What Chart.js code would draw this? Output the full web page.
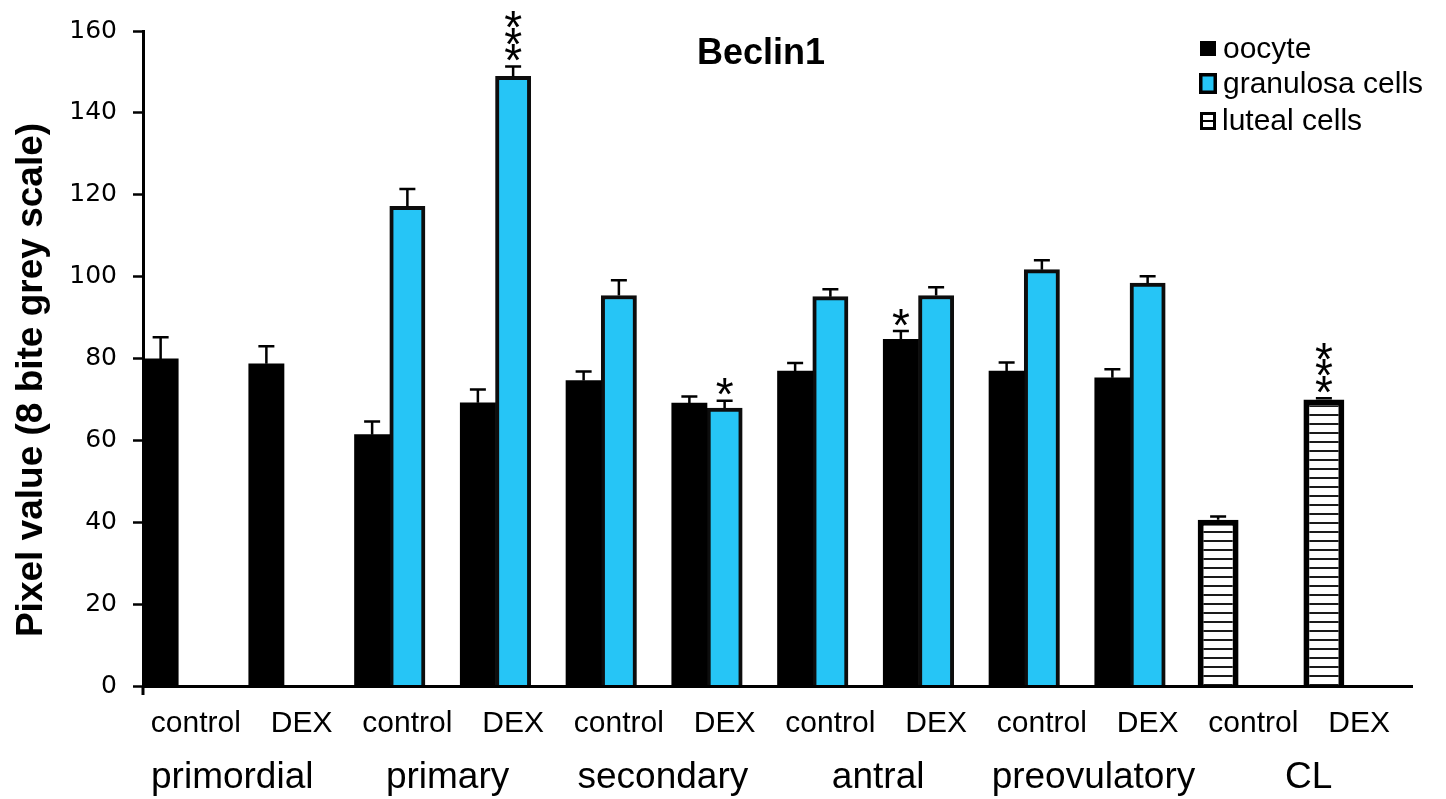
<!DOCTYPE html>
<html>
<head>
<meta charset="utf-8">
<title>Beclin1</title>
<script src="https://cdn.jsdelivr.net/npm/chart.js@4.4.1/dist/chart.umd.min.js"></script>
<style>
  html, body { margin: 0; padding: 0; background: #fff; }
  #wrap { width: 1446px; height: 799px; position: relative; }
</style>
</head>
<body>
<div id="wrap"><canvas id="chart" width="1446" height="799"></canvas></div>
<script>
// Treatment per bar position, and follicle stage per control/DEX pair
const categories = ['control', 'DEX', 'control', 'DEX', 'control', 'DEX',
                    'control', 'DEX', 'control', 'DEX', 'control', 'DEX'];
const stages = ['primordial', 'primary', 'secondary', 'antral', 'preovulatory', 'CL'];

// Mean pixel values (8 bit grey scale) and their SEM
const oocyte       = [79.9, 78.7, 61.4, 69.2, 74.6, 69.1, 76.9, 84.7, 76.9, 75.3, null, null];
const oocyteErr    = [5.3, 4.3, 3.2, 3.2, 2.2, 1.6, 2.0, 2.0, 2.1, 2.1, null, null];
const granulosa    = [null, null, 117.2, 148.9, 95.4, 67.9, 95.1, 95.4, 101.7, 98.4, null, null];
const granulosaErr = [null, null, 4.2, 2.4, 3.7, 1.8, 1.8, 2.0, 2.3, 1.7, null, null];
const luteal       = [null, null, null, null, null, null, null, null, null, null, 40.6, 70.0];
const lutealErr    = [null, null, null, null, null, null, null, null, null, null, 0.8, 0.3];
// empty third slot in each category (keeps the gap between pairs)
const spacer       = [null, null, null, null, null, null, null, null, null, null, null, null];

// Number of significance asterisks above each bar
const oocyteSig    = [0, 0, 0, 0, 0, 0, 0, 1, 0, 0, 0, 0];
const granulosaSig = [0, 0, 0, 3, 0, 1, 0, 0, 0, 0, 0, 0];
const lutealSig    = [0, 0, 0, 0, 0, 0, 0, 0, 0, 0, 0, 3];

// y axis range
const yMin = 0, yMax = 160, yStep = 20;

const BLUE = '#26c5f6';
const SANS = '"Liberation Sans", Arial, sans-serif';

// horizontal hatch used for the luteal cells bars
function hatch() {
  const c = document.createElement('canvas');
  c.width = 8; c.height = 9;
  const g = c.getContext('2d');
  g.fillStyle = '#fff'; g.fillRect(0, 0, 8, 9);
  g.fillStyle = '#1a1a1a'; g.fillRect(0, 0, 8, 2);
  return g.createPattern(c, 'repeat');
}
const hatchFill = hatch();

// error bars, asterisks, title, legend and stage labels
const decor = {
  id: 'decor',
  afterDatasetsDraw(chart) {
    const { ctx, scales: { y } } = chart;
    chart.data.datasets.forEach((ds, di) => {
      if (!ds.errors) return;
      const meta = chart.getDatasetMeta(di);
      meta.data.forEach((bar, i) => {
        const v = ds.data[i], e = ds.errors[i];
        if (v == null || e == null) return;
        const top = y.getPixelForValue(v + e);
        ctx.save();
        ctx.strokeStyle = '#000';
        ctx.lineWidth = 2.5;
        ctx.beginPath();
        ctx.moveTo(bar.x, bar.y);
        ctx.lineTo(bar.x, top);
        ctx.moveTo(bar.x - 8, top);
        ctx.lineTo(bar.x + 8, top);
        ctx.stroke();
        const n = ds.sig ? ds.sig[i] : 0;
        if (n) {
          ctx.font = '46px ' + SANS;
          ctx.fillStyle = '#000';
          ctx.textAlign = 'center';
          ctx.textBaseline = 'alphabetic';
          const m = ctx.measureText('*');
          const mid = (m.actualBoundingBoxAscent - m.actualBoundingBoxDescent) / 2;
          for (let k = 0; k < n; k++) {
            const cy = top - 14 - k * 16.5;
            ctx.fillText('*', bar.x, cy + mid);
          }
        }
        ctx.restore();
      });
    });
  },
  afterDraw(chart) {
    const { ctx, chartArea: a, scales: { x } } = chart;
    ctx.save();
    ctx.fillStyle = '#000';

    // short downward tick where the axes meet
    ctx.strokeStyle = '#000';
    ctx.lineWidth = 3;
    ctx.beginPath();
    ctx.moveTo(a.left, a.bottom);
    ctx.lineTo(a.left, a.bottom + 9);
    ctx.stroke();

    // chart title
    ctx.font = 'bold 36px ' + SANS;
    ctx.textAlign = 'center';
    ctx.textBaseline = 'alphabetic';
    ctx.fillText('Beclin1', 761, 64);

    // y axis title
    ctx.save();
    ctx.translate(42, 380);
    ctx.rotate(-Math.PI / 2);
    ctx.font = 'bold 37px ' + SANS;
    ctx.fillText('Pixel value (8 bite grey scale)', 0, 0);
    ctx.restore();

    // stage labels under each control/DEX pair (spread a little wider than the pairs)
    ctx.font = '37px ' + SANS;
    ctx.textAlign = 'center';
    stages.forEach((s, i) => {
      const mid = (x.getPixelForValue(2 * i) + x.getPixelForValue(2 * i + 1)) / 2;
      const cx = mid + (i - (stages.length - 1) / 2) * 3.8 - 7;
      ctx.fillText(s, cx, a.bottom + 102);
    });

    // legend
    const lx = 1200;
    ctx.font = '30px ' + SANS;
    ctx.textAlign = 'left';
    ctx.fillStyle = '#000';
    ctx.fillRect(lx, 41, 16, 15);
    ctx.fillText('oocyte', 1223, 58);

    ctx.fillStyle = BLUE;
    ctx.fillRect(lx - 1, 73, 18, 21);
    ctx.strokeStyle = '#000';
    ctx.lineWidth = 3.5;
    ctx.strokeRect(lx + 0.75, 74.75, 14.5, 17.5);
    ctx.fillStyle = '#000';
    ctx.fillText('granulosa cells', 1223, 93);

    ctx.fillStyle = '#fff';
    ctx.fillRect(lx, 112, 16, 18);
    ctx.lineWidth = 3;
    ctx.strokeRect(lx + 1.5, 113.5, 13, 15);
    ctx.beginPath();
    ctx.moveTo(lx + 1.5, 121);
    ctx.lineTo(lx + 14.5, 121);
    ctx.lineWidth = 2;
    ctx.stroke();
    ctx.fillStyle = '#000';
    ctx.fillText('luteal cells', 1222, 130);

    ctx.restore();
  }
};

new Chart(document.getElementById('chart'), {
  type: 'bar',
  data: {
    labels: categories,
    datasets: [
      { label: 'oocyte', data: oocyte, errors: oocyteErr, sig: oocyteSig,
        backgroundColor: '#000', borderWidth: 0, stack: 'cells' },
      { label: 'granulosa cells', data: granulosa, errors: granulosaErr, sig: granulosaSig,
        backgroundColor: BLUE, borderColor: '#0d0d0d', borderWidth: 4, stack: 'granulosa' },
      { label: 'luteal cells', data: luteal, errors: lutealErr, sig: lutealSig,
        backgroundColor: hatchFill, borderColor: '#000', borderWidth: 6,
        barPercentage: 1.16, stack: 'cells' },
      { label: '', data: spacer, stack: 'gap' }
    ]
  },
  options: {
    responsive: false,
    animation: false,
    devicePixelRatio: 1,
    events: [],
    datasets: { bar: { categoryPercentage: 1, barPercentage: 1 } },
    layout: { padding: { left: 0, right: 34, top: 25, bottom: 0 } },
    plugins: { legend: { display: false }, tooltip: { enabled: false }, title: { display: false } },
    scales: {
      x: {
        grid: { display: false, drawTicks: false },
        border: { display: true, color: '#000', width: 3, z: 1 },
        ticks: { color: '#000', font: { family: SANS, size: 30 }, padding: 20,
                 autoSkip: false, maxRotation: 0 },
        afterFit(s) { s.height = 113; }
      },
      y: {
        min: yMin, max: yMax, stacked: false,
        grid: { display: true, drawOnChartArea: false, drawTicks: true,
                tickLength: 10, tickWidth: 2.5, tickColor: '#000' },
        border: { display: true, color: '#000', width: 3, z: 1 },
        ticks: { stepSize: yStep, color: '#000', padding: 16,
                 font: { family: '"DejaVu Sans", Verdana, sans-serif', size: 25 } },
        afterFit(s) { s.width = 143; }
      }
    }
  },
  plugins: [decor]
});
</script>
</body>
</html>
